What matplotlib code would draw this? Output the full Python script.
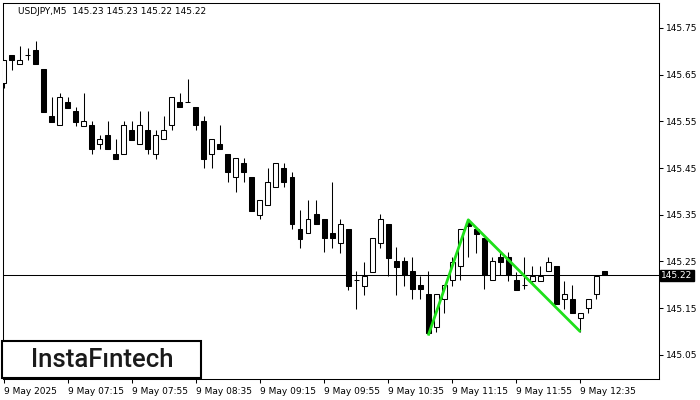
import matplotlib.pyplot as plt
from matplotlib.patches import Rectangle

# USDJPY M5 candles, 9 May 2025 from 06:35
opens = [145.632, 145.692, 145.673, 145.692, 145.703, 145.662, 145.562, 145.542, 145.592, 145.572,
         145.540, 145.542, 145.502, 145.521, 145.480, 145.480, 145.532, 145.502, 145.532, 145.480,
         145.512, 145.542, 145.592, 145.592, 145.581, 145.551, 145.480, 145.502, 145.480, 145.431,
         145.461, 145.431, 145.350, 145.371, 145.410, 145.450, 145.431, 145.320, 145.311, 145.352,
         145.341, 145.311, 145.290, 145.320, 145.210, 145.198, 145.228, 145.290, 145.330, 145.251,
         145.251, 145.230, 145.200, 145.180, 145.110, 145.170, 145.210, 145.240, 145.335, 145.320,
         145.300, 145.210, 145.260, 145.260, 145.210, 145.200, 145.208, 145.208, 145.230, 145.240,
         145.170, 145.170, 145.129, 145.150, 145.180, 145.230]
highs = [145.681, 145.692, 145.711, 145.707, 145.722, 145.662, 145.602, 145.611, 145.602, 145.581,
         145.611, 145.551, 145.521, 145.551, 145.512, 145.551, 145.551, 145.572, 145.572, 145.532,
         145.562, 145.602, 145.611, 145.641, 145.581, 145.562, 145.512, 145.542, 145.480, 145.472,
         145.472, 145.431, 145.382, 145.450, 145.461, 145.461, 145.442, 145.360, 145.382, 145.382,
         145.341, 145.420, 145.341, 145.320, 145.230, 145.249, 145.300, 145.352, 145.330, 145.281,
         145.260, 145.260, 145.219, 145.230, 145.180, 145.200, 145.260, 145.320, 145.339, 145.320,
         145.300, 145.260, 145.270, 145.270, 145.228, 145.260, 145.240, 145.240, 145.260, 145.240,
         145.208, 145.200, 145.140, 145.170, 145.219, 145.230]
lows = [145.622, 145.660, 145.673, 145.681, 145.673, 145.570, 145.549, 145.542, 145.579, 145.540,
        145.540, 145.480, 145.491, 145.491, 145.470, 145.480, 145.510, 145.502, 145.480, 145.470,
        145.512, 145.532, 145.581, 145.592, 145.532, 145.450, 145.450, 145.491, 145.420, 145.399,
        145.420, 145.358, 145.341, 145.371, 145.410, 145.410, 145.320, 145.279, 145.311, 145.330,
        145.270, 145.279, 145.268, 145.189, 145.148, 145.178, 145.228, 145.279, 145.219, 145.178,
        145.198, 145.170, 145.170, 145.097, 145.099, 145.140, 145.198, 145.210, 145.260, 145.268,
        145.191, 145.210, 145.221, 145.208, 145.189, 145.191, 145.201, 145.208, 145.230, 145.159,
        145.148, 145.140, 145.099, 145.140, 145.170, 145.220]
closes = [145.681, 145.681, 145.681, 145.692, 145.673, 145.570, 145.549, 145.602, 145.579, 145.549,
          145.551, 145.491, 145.512, 145.491, 145.470, 145.542, 145.510, 145.542, 145.491, 145.521,
          145.532, 145.602, 145.581, 145.592, 145.542, 145.470, 145.512, 145.491, 145.442, 145.472,
          145.442, 145.358, 145.382, 145.420, 145.461, 145.420, 145.330, 145.298, 145.341, 145.330,
          145.300, 145.300, 145.330, 145.198, 145.210, 145.219, 145.300, 145.341, 145.258, 145.238,
          145.221, 145.191, 145.191, 145.097, 145.180, 145.200, 145.249, 145.320, 145.326, 145.309,
          145.221, 145.251, 145.249, 145.221, 145.189, 145.200, 145.219, 145.219, 145.249, 145.159,
          145.180, 145.140, 145.140, 145.170, 145.219, 145.220]

# pattern line (bar index, price)
pattern_x = [53, 58, 72]
pattern_y = [145.091, 145.339, 145.099]

last_price = 145.22
yticks = [145.05, 145.15, 145.25, 145.35, 145.45, 145.55, 145.65, 145.75]
xtick_pos = [0, 8, 16, 24, 32, 40, 48, 56, 64, 72]
xtick_labels = ['9 May 2025', '9 May 07:15', '9 May 07:55', '9 May 08:35', '9 May 09:15',
                '9 May 09:55', '9 May 10:35', '9 May 11:15', '9 May 11:55', '9 May 12:35']

fig = plt.figure(figsize=(7, 4), dpi=100)
ax = fig.add_axes([2.5 / 700, 1 - 379 / 400, (659 - 2.5) / 700, 376 / 400])

lw = 0.75
n = len(opens)
xs = list(range(n))

# wicks
ax.vlines(xs, lows, highs, color='black', linewidth=lw, zorder=2)

# bodies
for i in xs:
    o, c = opens[i], closes[i]
    bottom = min(o, c)
    height = abs(c - o)
    face = 'white' if c >= o else 'black'
    if height < 0.001:
        ax.hlines(o, i - 0.31, i + 0.31, color='black', linewidth=lw, zorder=3)
    else:
        ax.bar(i, height, bottom=bottom, width=0.62, facecolor=face,
               edgecolor='black', linewidth=lw, zorder=3)

ax.axhline(last_price, color='black', linewidth=lw, zorder=1)
ax.plot(pattern_x, pattern_y, color='#1ee01a', linewidth=2, zorder=4, solid_capstyle='butt')

ax.set_xlim(-0.125, 81.8)
ax.set_ylim(144.998, 145.8035)

ax.yaxis.tick_right()
ax.set_yticks(yticks)
ax.set_yticklabels(['%.2f' % v for v in yticks])
ax.set_xticks(xtick_pos)
ax.set_xticklabels(xtick_labels, ha='left')
ax.tick_params(axis='both', labelsize=6.5, length=3, width=lw, color='black', pad=2)
ax.tick_params(axis='x', pad=3)
for s in ax.spines.values():
    s.set_linewidth(lw)

# current price box
ax.text(1.003, last_price, '145.22', transform=ax.get_yaxis_transform(),
        ha='left', va='center', fontsize=6.5, color='white',
        bbox=dict(boxstyle='square,pad=0.15', facecolor='black', edgecolor='black'))

fig.text(18 / 700, 1 - 12 / 400, 'USDJPY,M5  145.23 145.23 145.22 145.22',
         fontsize=6.5, va='center', ha='left')

# logo
logo = Rectangle((2 / 700, 1 - 378 / 400), 199 / 700, 37 / 400, transform=fig.transFigure,
                 facecolor='white', edgecolor='black', linewidth=1.5, zorder=5)
fig.patches.append(logo)
fig.text(102 / 700, 1 - 360 / 400, 'InstaFıntech', fontsize=18.5, ha='center', va='center',
         family=['Roboto', 'DejaVu Sans'], fontweight='medium', color='#1a1a1a', zorder=6)

fig.savefig('out.png', dpi=100)
